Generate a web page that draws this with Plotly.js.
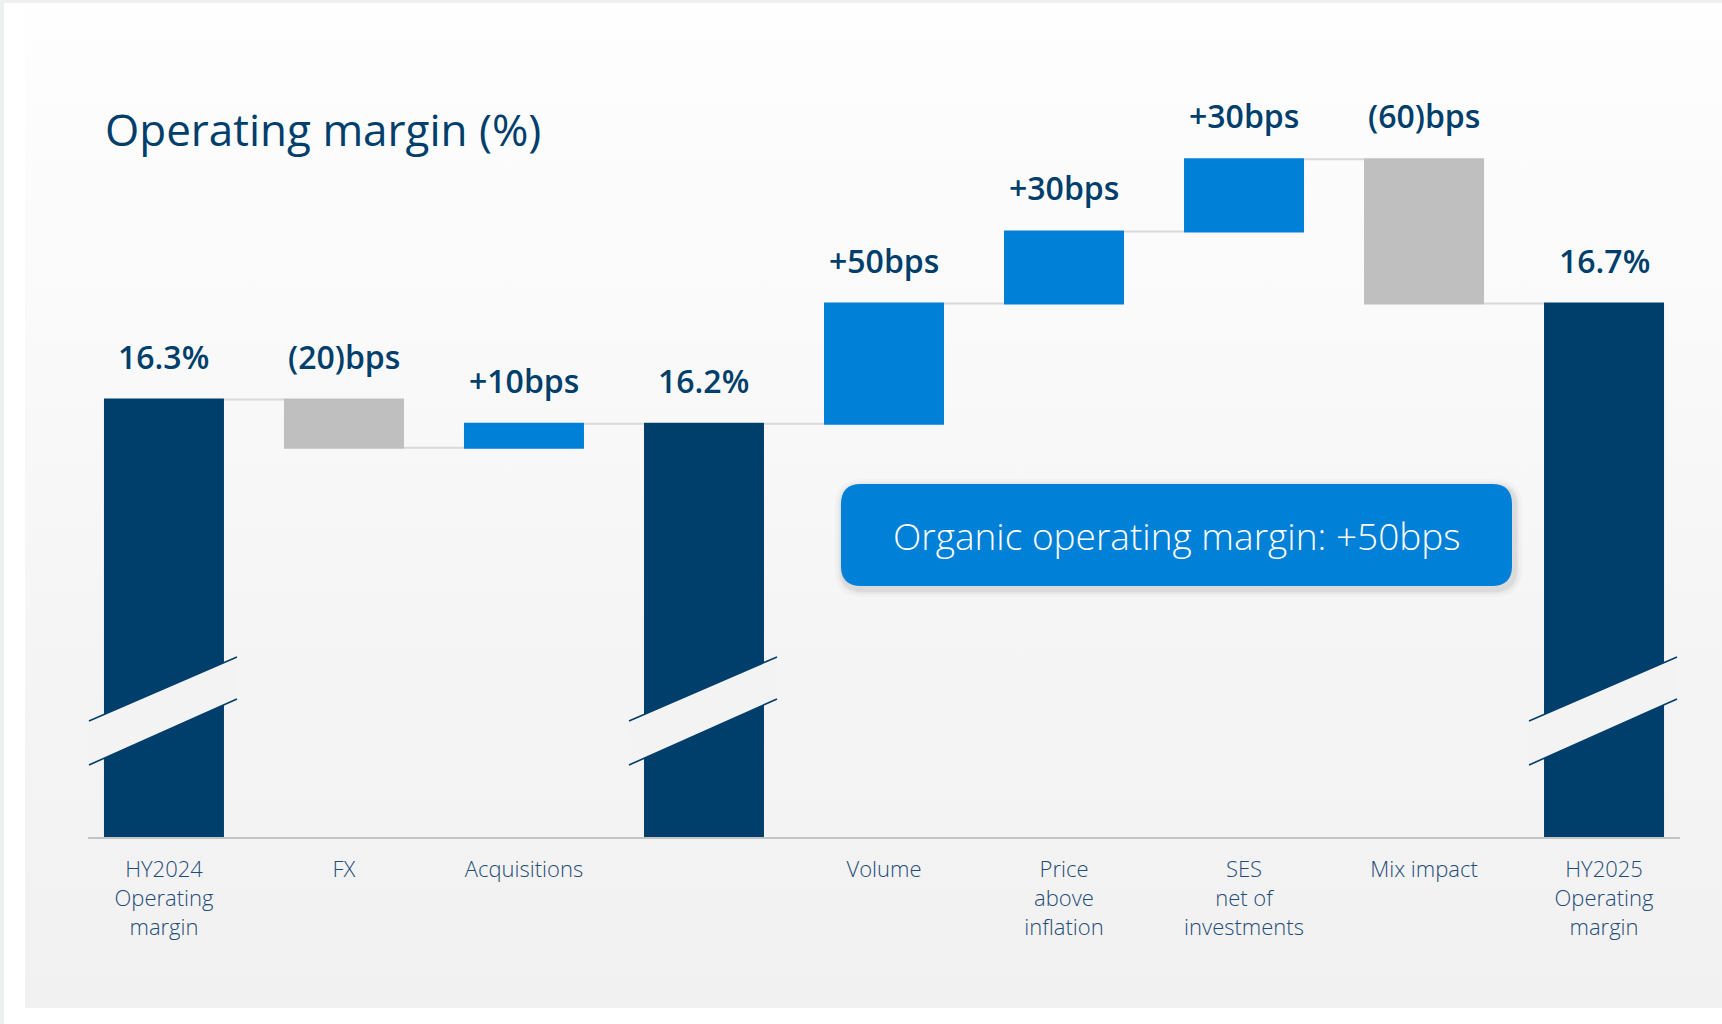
<!DOCTYPE html>
<html>
<head>
<meta charset="utf-8">
<script src="https://cdn.plot.ly/plotly-3.0.1.min.js"></script>
<style>
  html, body { margin: 0; padding: 0; background: #ffffff; }
  #wrap { position: relative; width: 1722px; height: 1024px; overflow: hidden; background: #ffffff; }
  #topstrip { position: absolute; left: 0; top: 0; width: 1722px; height: 3px; background: #eef0f0; }
  #leftstrip { position: absolute; left: 0; top: 0; width: 4px; height: 1024px; background: #eef0f0; }
  #panel { position: absolute; left: 25px; top: 10px; width: 1697px; height: 998px;
           background: linear-gradient(to bottom, #fefefe 0%, #f9f9f9 35%, #f4f4f4 70%, #f1f1f1 100%); }
  #chart { position: absolute; left: 0; top: 0; width: 1722px; height: 1024px; }
</style>
</head>
<body>
<div id="wrap">
  <div id="topstrip"></div>
  <div id="leftstrip"></div>
  <div id="panel"></div>
  <div id="chart"></div>
</div>
<script>
// ---- Data ----
const categories = [
  'HY2024<br>Operating<br>margin',
  'FX',
  'Acquisitions',
  '',
  'Volume',
  'Price<br>above<br>inflation',
  'SES<br>net of<br>investments',
  'Mix impact',
  'HY2025<br>Operating<br>margin'
];
const measures = ['absolute', 'relative', 'relative', 'total', 'relative', 'relative', 'relative', 'relative', 'total'];
const changes = [16.3, -0.2, 0.1, 0, 0.5, 0.3, 0.3, -0.6, 0];
const boxText = 'Organic operating margin: +50bps';
const chartTitle = 'Operating margin (%)';

// ---- Styles ----
const NAVY = '#003e6b';
const BLUE = '#0080d6';
const GREY = '#bfbfbf';
const LABEL_NAVY = '#1e4c77';
const Y_FLOOR = 14.48;
const Y_TOP = 17.63;

const xs = categories.map((_, i) => i);

// running totals for labels
let cum = 0;
const tops = [];
const labels = [];
changes.forEach((v, i) => {
  const m = measures[i];
  if (m === 'absolute') {
    cum = v;
    tops.push(cum);
    labels.push(cum.toFixed(1) + '%');
  } else if (m === 'total') {
    tops.push(cum);
    labels.push(cum.toFixed(1) + '%');
  } else {
    const start = cum;
    cum = cum + v;
    tops.push(Math.max(start, cum));
    const bps = Math.round(v * 100);
    labels.push(bps >= 0 ? '+' + bps + 'bps' : '(' + Math.abs(bps) + ')bps');
  }
});

const trace = {
  type: 'waterfall',
  x: xs,
  y: changes,
  measure: measures,
  increasing: { marker: { color: BLUE } },
  decreasing: { marker: { color: GREY } },
  totals: { marker: { color: NAVY } },
  connector: { mode: 'between', line: { color: '#d9d9d9', width: 2 } },
  textinfo: 'none',
  hoverinfo: 'skip',
  showlegend: false
};

const annotations = xs.map((x, i) => ({
  x: x, y: tops[i], xref: 'x', yref: 'y',
  text: labels[i],
  showarrow: false,
  yanchor: 'bottom', xanchor: 'center',
  yshift: 20,
  font: { family: 'Open Sans, sans-serif', size: 32, color: NAVY, weight: 600 }
}));

// plot geometry (pixels)
const M = { l: 88, r: 42, t: 80, b: 187 };
const PW = 1722 - M.l - M.r;
const PH = 1024 - M.t - M.b;
const boxCx = (1176.5 - M.l) / PW;
const boxCy = (1024 - M.b - 535) / PH;

annotations.push({
  x: boxCx, y: boxCy, xref: 'paper', yref: 'paper',
  text: boxText, showarrow: false,
  xanchor: 'center', yanchor: 'middle',
  font: { family: 'Open Sans, sans-serif', size: 37, color: '#ffffff', weight: 300 }
});

function roundRect(hw, hh, r, dx, dy) {
  const x0 = -hw + dx, x1 = hw + dx, y0 = -hh + dy, y1 = hh + dy;
  return `M ${x0 + r} ${y0} L ${x1 - r} ${y0} Q ${x1} ${y0} ${x1} ${y0 + r} ` +
         `L ${x1} ${y1 - r} Q ${x1} ${y1} ${x1 - r} ${y1} L ${x0 + r} ${y1} ` +
         `Q ${x0} ${y1} ${x0} ${y1 - r} L ${x0} ${y0 + r} Q ${x0} ${y0} ${x0 + r} ${y0} Z`;
}

const shapes = [];
// shadow layers
[[8, 'rgba(0,0,0,0.025)'], [5, 'rgba(0,0,0,0.035)'], [3, 'rgba(0,0,0,0.05)']].forEach(([g, c]) => {
  shapes.push({
    type: 'path', xref: 'paper', yref: 'paper', xsizemode: 'pixel', ysizemode: 'pixel',
    xanchor: boxCx, yanchor: boxCy,
    path: roundRect(335.5 + g, 51 + g, 20 + g, 2, -3),
    fillcolor: c, line: { width: 0 }, layer: 'above'
  });
});
shapes.push({
  type: 'path', xref: 'paper', yref: 'paper', xsizemode: 'pixel', ysizemode: 'pixel',
  xanchor: boxCx, yanchor: boxCy,
  path: roundRect(335.5, 51, 20, 0, 0),
  fillcolor: BLUE, line: { width: 0 }, layer: 'above'
});

// axis-break marks on total bars
xs.forEach((x, i) => {
  if (measures[i] === 'relative') return;
  shapes.push({
    type: 'path', xref: 'x', yref: 'y', xsizemode: 'pixel', ysizemode: 'pixel',
    xanchor: x, yanchor: Y_FLOOR,
    path: 'M -75 72 L 73 138 L 73 180 L -75 116 Z',
    fillcolor: '#f3f3f3', line: { width: 0 }, layer: 'above'
  });
  ['M -75 116 L 73 180', 'M -75 72 L 73 138'].forEach(p => {
    shapes.push({
      type: 'path', xref: 'x', yref: 'y', xsizemode: 'pixel', ysizemode: 'pixel',
      xanchor: x, yanchor: Y_FLOOR, path: p,
      line: { color: NAVY, width: 1.6 }, layer: 'above'
    });
  });
});

const layout = {
  width: 1722, height: 1024,
  margin: { l: M.l, r: M.r, t: M.t, b: M.b, pad: 0 },
  paper_bgcolor: 'rgba(0,0,0,0)',
  plot_bgcolor: 'rgba(0,0,0,0)',
  title: {
    text: chartTitle,
    font: { family: 'Open Sans, sans-serif', size: 44, color: NAVY },
    xref: 'container', yref: 'container',
    x: 105 / 1722, xanchor: 'left',
    y: 1 - 131 / 1024, yanchor: 'middle'
  },
  waterfallgap: 1 / 3,
  xaxis: {
    range: [-0.422, 8.422],
    tickmode: 'array', tickvals: xs, ticktext: categories,
    showgrid: false, zeroline: false,
    showline: true, linecolor: '#c4c4c4', linewidth: 2,
    ticks: '', ticklabelstandoff: 12,
    tickfont: { family: 'Open Sans, sans-serif', size: 22, color: LABEL_NAVY, weight: 300 },
    fixedrange: true
  },
  yaxis: {
    range: [Y_FLOOR, Y_TOP],
    visible: false, showgrid: false, zeroline: false, fixedrange: true
  },
  annotations: annotations,
  shapes: shapes,
  showlegend: false
};

Plotly.newPlot('chart', [trace], layout, { displayModeBar: false, staticPlot: true });
</script>
</body>
</html>
